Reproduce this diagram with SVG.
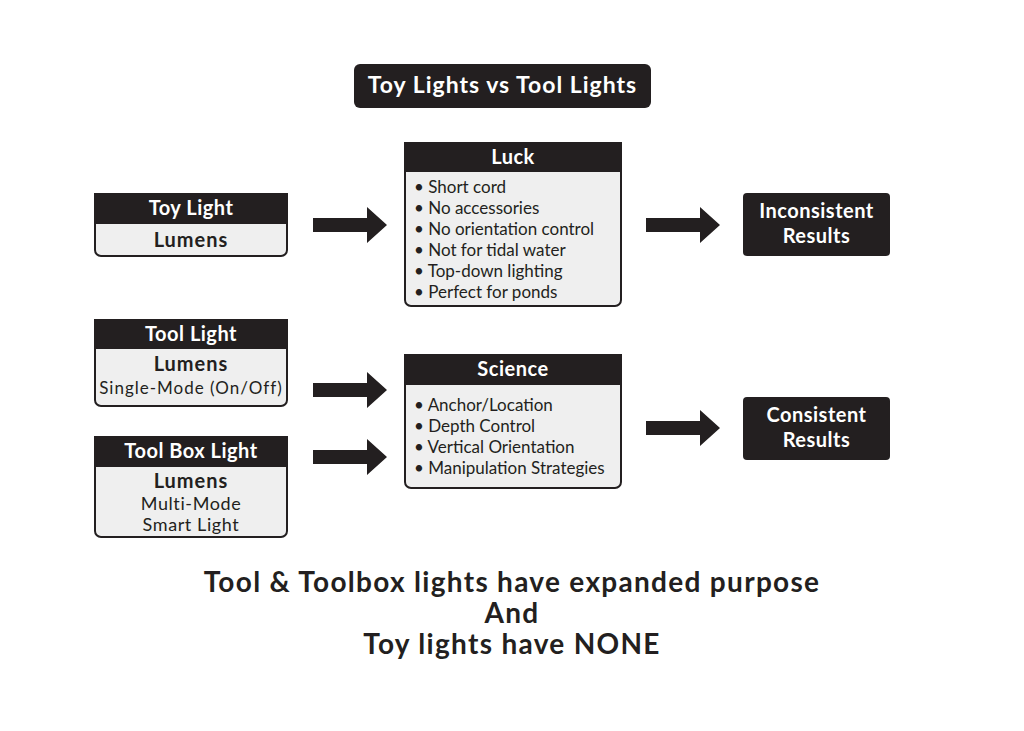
<svg xmlns="http://www.w3.org/2000/svg" width="1024" height="731" viewBox="0 0 1024 731">
<style>
text{font-family:"Lato","Open Sans","Liberation Sans",sans-serif;fill:#231f20}
.h{font-weight:700;font-size:20px;letter-spacing:0.5px;fill:#fff;text-anchor:middle}
.b{font-weight:700;font-size:20px;letter-spacing:1px;text-anchor:middle}
.r{font-size:18px;letter-spacing:0.6px;text-anchor:middle}
.li{font-size:17px}
.body{fill:#efefef;stroke:#231f20;stroke-width:2}
.dark{fill:#231f20}
.arr{fill:#231f20}
.big{font-weight:700;font-size:28px;letter-spacing:1.3px;text-anchor:middle}
</style>
<defs>
<path id="arrow" d="M0,-7 H54 V-18 L74,0 L54,18 V7 H0 Z"/>
</defs>
<rect width="1024" height="731" fill="#fff"/>
<g id="title"><rect x="354" y="64" width="297" height="44" rx="6" class="dark"/><text x="502.5" y="93" class="h" style="font-size:23px;letter-spacing:1px">Toy Lights vs Tool Lights</text></g>
<g id="toy-light"><rect x="95" y="194" width="192" height="62" rx="6" class="body"/><rect x="94" y="193" width="194" height="31" class="dark"/><text x="191" y="215" class="h">Toy Light</text><text x="191" y="247" class="b">Lumens</text></g>
<g id="tool-light"><rect x="95" y="320" width="192" height="86" rx="6" class="body"/><rect x="94" y="319" width="194" height="30" class="dark"/><text x="191" y="341" class="h">Tool Light</text><text x="191" y="371" class="b">Lumens</text><text x="191" y="394" class="r" style="font-size:17px;letter-spacing:1px">Single-Mode (On/Off)</text></g>
<g id="toolbox-light"><rect x="95" y="437" width="192" height="100" rx="6" class="body"/><rect x="94" y="436" width="194" height="31" class="dark"/><text x="191" y="458" class="h">Tool Box Light</text><text x="191" y="488" class="b">Lumens</text><text x="191" y="510" class="r">Multi-Mode</text><text x="191" y="531" class="r">Smart Light</text></g>
<g id="luck"><rect x="405" y="143" width="216" height="163" rx="6" class="body"/><rect x="404" y="142" width="218" height="30" class="dark"/><text x="513" y="164" class="h">Luck</text>
<g class="li"><text x="414" y="193">•  Short cord</text><text x="414" y="214">•  No accessories</text><text x="414" y="235">•  No orientation control</text><text x="414" y="256">•  Not for tidal water</text><text x="414" y="277">•  Top-down lighting</text><text x="414" y="298">•  Perfect for ponds</text></g></g>
<g id="science"><rect x="405" y="355" width="216" height="133" rx="6" class="body"/><rect x="404" y="354" width="218" height="31" class="dark"/><text x="513" y="376" class="h">Science</text>
<g class="li"><text x="414" y="411">•  Anchor/Location</text><text x="414" y="432">•  Depth Control</text><text x="414" y="453">•  Vertical Orientation</text><text x="414" y="474">•  Manipulation Strategies</text></g></g>
<g id="inconsistent"><rect x="743" y="193" width="147" height="63" rx="4" class="dark"/><text x="816.5" y="218" class="h">Inconsistent</text><text x="816.5" y="243" class="h">Results</text></g>
<g id="consistent"><rect x="743" y="397" width="147" height="63" rx="4" class="dark"/><text x="816.5" y="422" class="h">Consistent</text><text x="816.5" y="447" class="h">Results</text></g>
<g id="connectors" class="arr">
<use href="#arrow" x="313" y="225"/>
<use href="#arrow" x="646" y="225"/>
<use href="#arrow" x="313" y="390"/>
<use href="#arrow" x="313" y="457"/>
<use href="#arrow" x="646" y="428"/>
</g>
<g id="caption"><text x="512" y="592" class="big">Tool &amp; Toolbox lights have expanded purpose</text><text x="512" y="623" class="big">And</text><text x="512" y="654" class="big">Toy lights have NONE</text></g>
</svg>
